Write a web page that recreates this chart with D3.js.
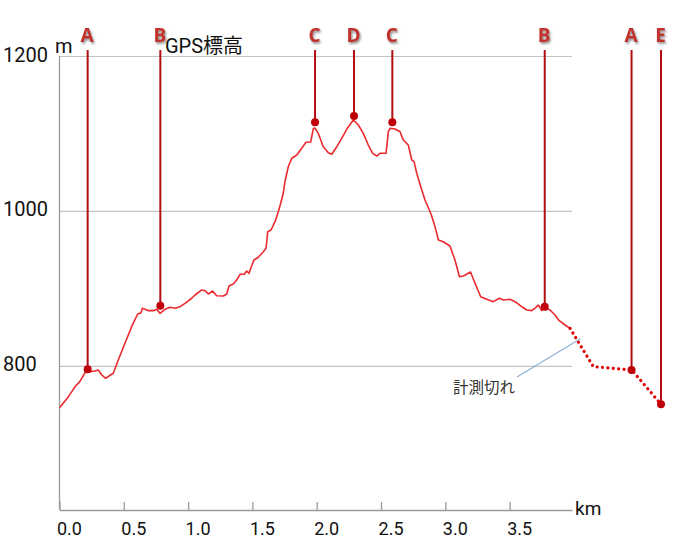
<!DOCTYPE html>
<html>
<head>
<meta charset="utf-8">
<script src="https://cdn.jsdelivr.net/npm/d3@7"></script>
<style>
  html, body { margin: 0; padding: 0; background: #fff; }
  svg { display: block; font-family: Roboto, "Noto Sans CJK JP", sans-serif; }
</style>
</head>
<body>
<svg id="chart" width="675" height="541"></svg>
<script>
// ---- data ----
const distanceKm = [0.00,0.068,0.121,0.159,0.198,0.219,0.237,0.276,0.302,0.328,0.359,0.393,0.418,0.457,0.509,0.561,0.608,0.634,0.644,0.665,0.691,0.729,0.756,0.781,0.821,0.859,0.898,0.937,0.976,1.028,1.054,1.106,1.131,1.157,1.191,1.222,1.274,1.300,1.318,1.351,1.378,1.404,1.437,1.456,1.474,1.487,1.512,1.546,1.585,1.606,1.619,1.645,1.676,1.701,1.720,1.740,1.753,1.779,1.806,1.845,1.883,1.917,1.953,1.974,1.987,2.012,2.051,2.090,2.117,2.156,2.194,2.238,2.285,2.324,2.362,2.401,2.435,2.467,2.492,2.539,2.557,2.570,2.609,2.648,2.673,2.712,2.739,2.757,2.778,2.809,2.842,2.876,2.894,2.920,2.946,2.984,3.036,3.075,3.110,3.140,3.196,3.231,3.275,3.322,3.373,3.420,3.451,3.503,3.542,3.594,3.633,3.672,3.705,3.723,3.750,3.768,3.814,3.853,3.886,3.931,3.970];
const elevationM = [746,760,773,780,791,795,792.5,793.4,794.7,788.3,784,787.9,790.5,807.6,829.2,850.6,867,868.7,874.4,873.1,871.3,871.3,873.1,867.9,873.1,875.6,874.4,876.4,880.8,887.3,891.5,898,897.1,892.8,896.7,890.6,890.2,892.8,903.1,905.7,910.9,918.2,918.2,922.5,919.5,926,936.7,940.2,947.4,951.8,973.2,975.4,986.1,999,1009.9,1022.8,1037.8,1057.1,1068,1072.2,1080.9,1088.6,1089,1106.7,1106.7,1100.2,1082.9,1075.2,1073.1,1082.9,1093.8,1106.7,1117.4,1110.9,1100.2,1085.1,1074.4,1070.9,1074.4,1074.4,1102.3,1106.7,1105.8,1102.3,1091.6,1085.1,1065.8,1063.6,1048.6,1031.3,1014.1,1001.2,993.5,979.7,962.5,960.3,954.8,936.7,915.1,916,921.2,906.6,889.3,886,882.9,887.3,885.1,886,882.9,876.4,872.2,871.3,875.6,878.6,871.3,875.6,872.2,865.7,858.4,852.8,848.5];

// missing-measurement (dotted) part
const gapKm = [3.970, 4.151, 4.450, 4.677];
const gapElev = [848.5, 799, 794.7, 750.4];

// waypoint markers
const markerLabels = ["A","B","C","D","C","B","A","E"];
const markerKm = [0.219, 0.784, 1.987, 2.290, 2.588, 3.773, 4.448, 4.677];
const markerElev = [795.6, 877.7, 1114.4, 1122.6, 1114.4, 876.4, 794.7, 750.4];

// ticks
const xTicks = [0, 0.5, 1.0, 1.5, 2.0, 2.5, 3.0, 3.5];
const yTicks = [800, 1000, 1200];
const xDomain = [0, 3.985];
const yDomain = [614, 1200];

// annotation
const noteText = "計測切れ";
const noteTarget = [4.05, 835];
const noteFrom = [3.557, 785.6];

// ---- drawing ----
const svg = d3.select("#chart");
const plotL = 59.5, plotR = 572, plotT = 56, plotB = 510;

const x = d3.scaleLinear().domain(xDomain).range([plotL, plotR]);
const y = d3.scaleLinear().domain(yDomain).range([plotB, plotT]);

const defs = svg.append("defs");
const f = defs.append("filter").attr("id", "shadow")
  .attr("x", "-30%").attr("y", "-30%").attr("width", "180%").attr("height", "180%");
f.append("feDropShadow").attr("dx", 1.2).attr("dy", 1.8).attr("stdDeviation", 1.1)
  .attr("flood-color", "#666").attr("flood-opacity", 0.75);

// gridlines + y labels
const yAxis = d3.axisLeft(y).tickValues(yTicks).tickSize(-(plotR - plotL)).tickFormat(d3.format("d"));
const gy = svg.append("g").attr("transform", `translate(${plotL},0)`).call(yAxis);
gy.select(".domain").remove();
gy.selectAll(".tick line").attr("stroke", "#c4c4c4").attr("stroke-width", 1.2);
gy.selectAll(".tick text")
  .attr("text-anchor", "start").attr("x", 3 - plotL).attr("dy", null).attr("y", 5)
  .attr("font-size", 20).attr("fill", "#111").style("font-family", "Roboto, sans-serif");

// y axis line
svg.append("line").attr("x1", plotL).attr("x2", plotL).attr("y1", plotT).attr("y2", plotB)
  .attr("stroke", "#9a9a9a").attr("stroke-width", 1.3);

// x axis
const xAxis = d3.axisBottom(x).tickValues(xTicks).tickSizeInner(-8).tickSizeOuter(0)
  .tickPadding(12).tickFormat(d3.format(".1f"));
const gx = svg.append("g").attr("transform", `translate(0,${plotB})`).call(xAxis);
gx.select(".domain").attr("stroke", "#9a9a9a").attr("stroke-width", 1.3);
gx.selectAll(".tick line").attr("stroke", "#9a9a9a").attr("stroke-width", 1.3);
gx.selectAll(".tick text").attr("text-anchor", "start").attr("x", -3)
  .attr("font-size", 18).attr("fill", "#111").style("font-family", "Roboto, sans-serif");

// unit labels
svg.append("text").attr("x", plotR + 3).attr("y", plotB + 5).text("km")
  .attr("font-size", 19).attr("fill", "#111");
svg.append("text").attr("x", 55).attr("y", 53).text("m")
  .attr("font-size", 20).attr("fill", "#111");
svg.append("text").attr("x", 165).attr("y", 53).text("GPS標高")
  .attr("font-size", 20).attr("fill", "#111");

// elevation line
const line = d3.line().x(d => x(d[0])).y(d => y(d[1]));
const mainPts = distanceKm.map((d, i) => [d, elevationM[i]]);
svg.append("path").datum(mainPts).attr("d", line)
  .attr("fill", "none").attr("stroke", "#ea2a2e").attr("stroke-width", 1.6)
  .attr("stroke-linejoin", "round");

// dotted part
const gapPts = gapKm.map((d, i) => [d, gapElev[i]]);
svg.append("path").datum(gapPts).attr("d", line)
  .attr("fill", "none").attr("stroke", "#e00000").attr("stroke-width", 3.2)
  .attr("stroke-linecap", "round").attr("stroke-dasharray", "0.1,5.3");

// annotation
svg.append("line")
  .attr("x1", x(noteTarget[0])).attr("y1", y(noteTarget[1]))
  .attr("x2", x(noteFrom[0])).attr("y2", y(noteFrom[1]))
  .attr("stroke", "#8caed6").attr("stroke-width", 1.1);
svg.append("text").attr("x", x(noteFrom[0]) - 2).attr("y", y(noteFrom[1]) + 16)
  .attr("text-anchor", "end").attr("font-size", 15.5).attr("fill", "#333")
  .style("font-family", "'Noto Sans CJK JP', sans-serif").text(noteText);

// markers
const mk = svg.append("g");
markerLabels.forEach((lab, i) => {
  const mx = x(markerKm[i]), my = y(markerElev[i]);
  mk.append("line").attr("x1", mx).attr("x2", mx).attr("y1", 50).attr("y2", my)
    .attr("stroke", "#b30d12").attr("stroke-width", 2);
  mk.append("circle").attr("cx", mx).attr("cy", my).attr("r", 4)
    .attr("fill", "#c00008");
  mk.append("text").attr("x", mx - 0.5).attr("y", 42).attr("text-anchor", "middle")
    .attr("font-size", 19).attr("font-weight", "bold").attr("fill", "#c2302c")
    .attr("filter", "url(#shadow)")
    .style("font-family", "'Open Sans', 'DejaVu Sans', sans-serif").text(lab);
});
</script>
</body>
</html>
